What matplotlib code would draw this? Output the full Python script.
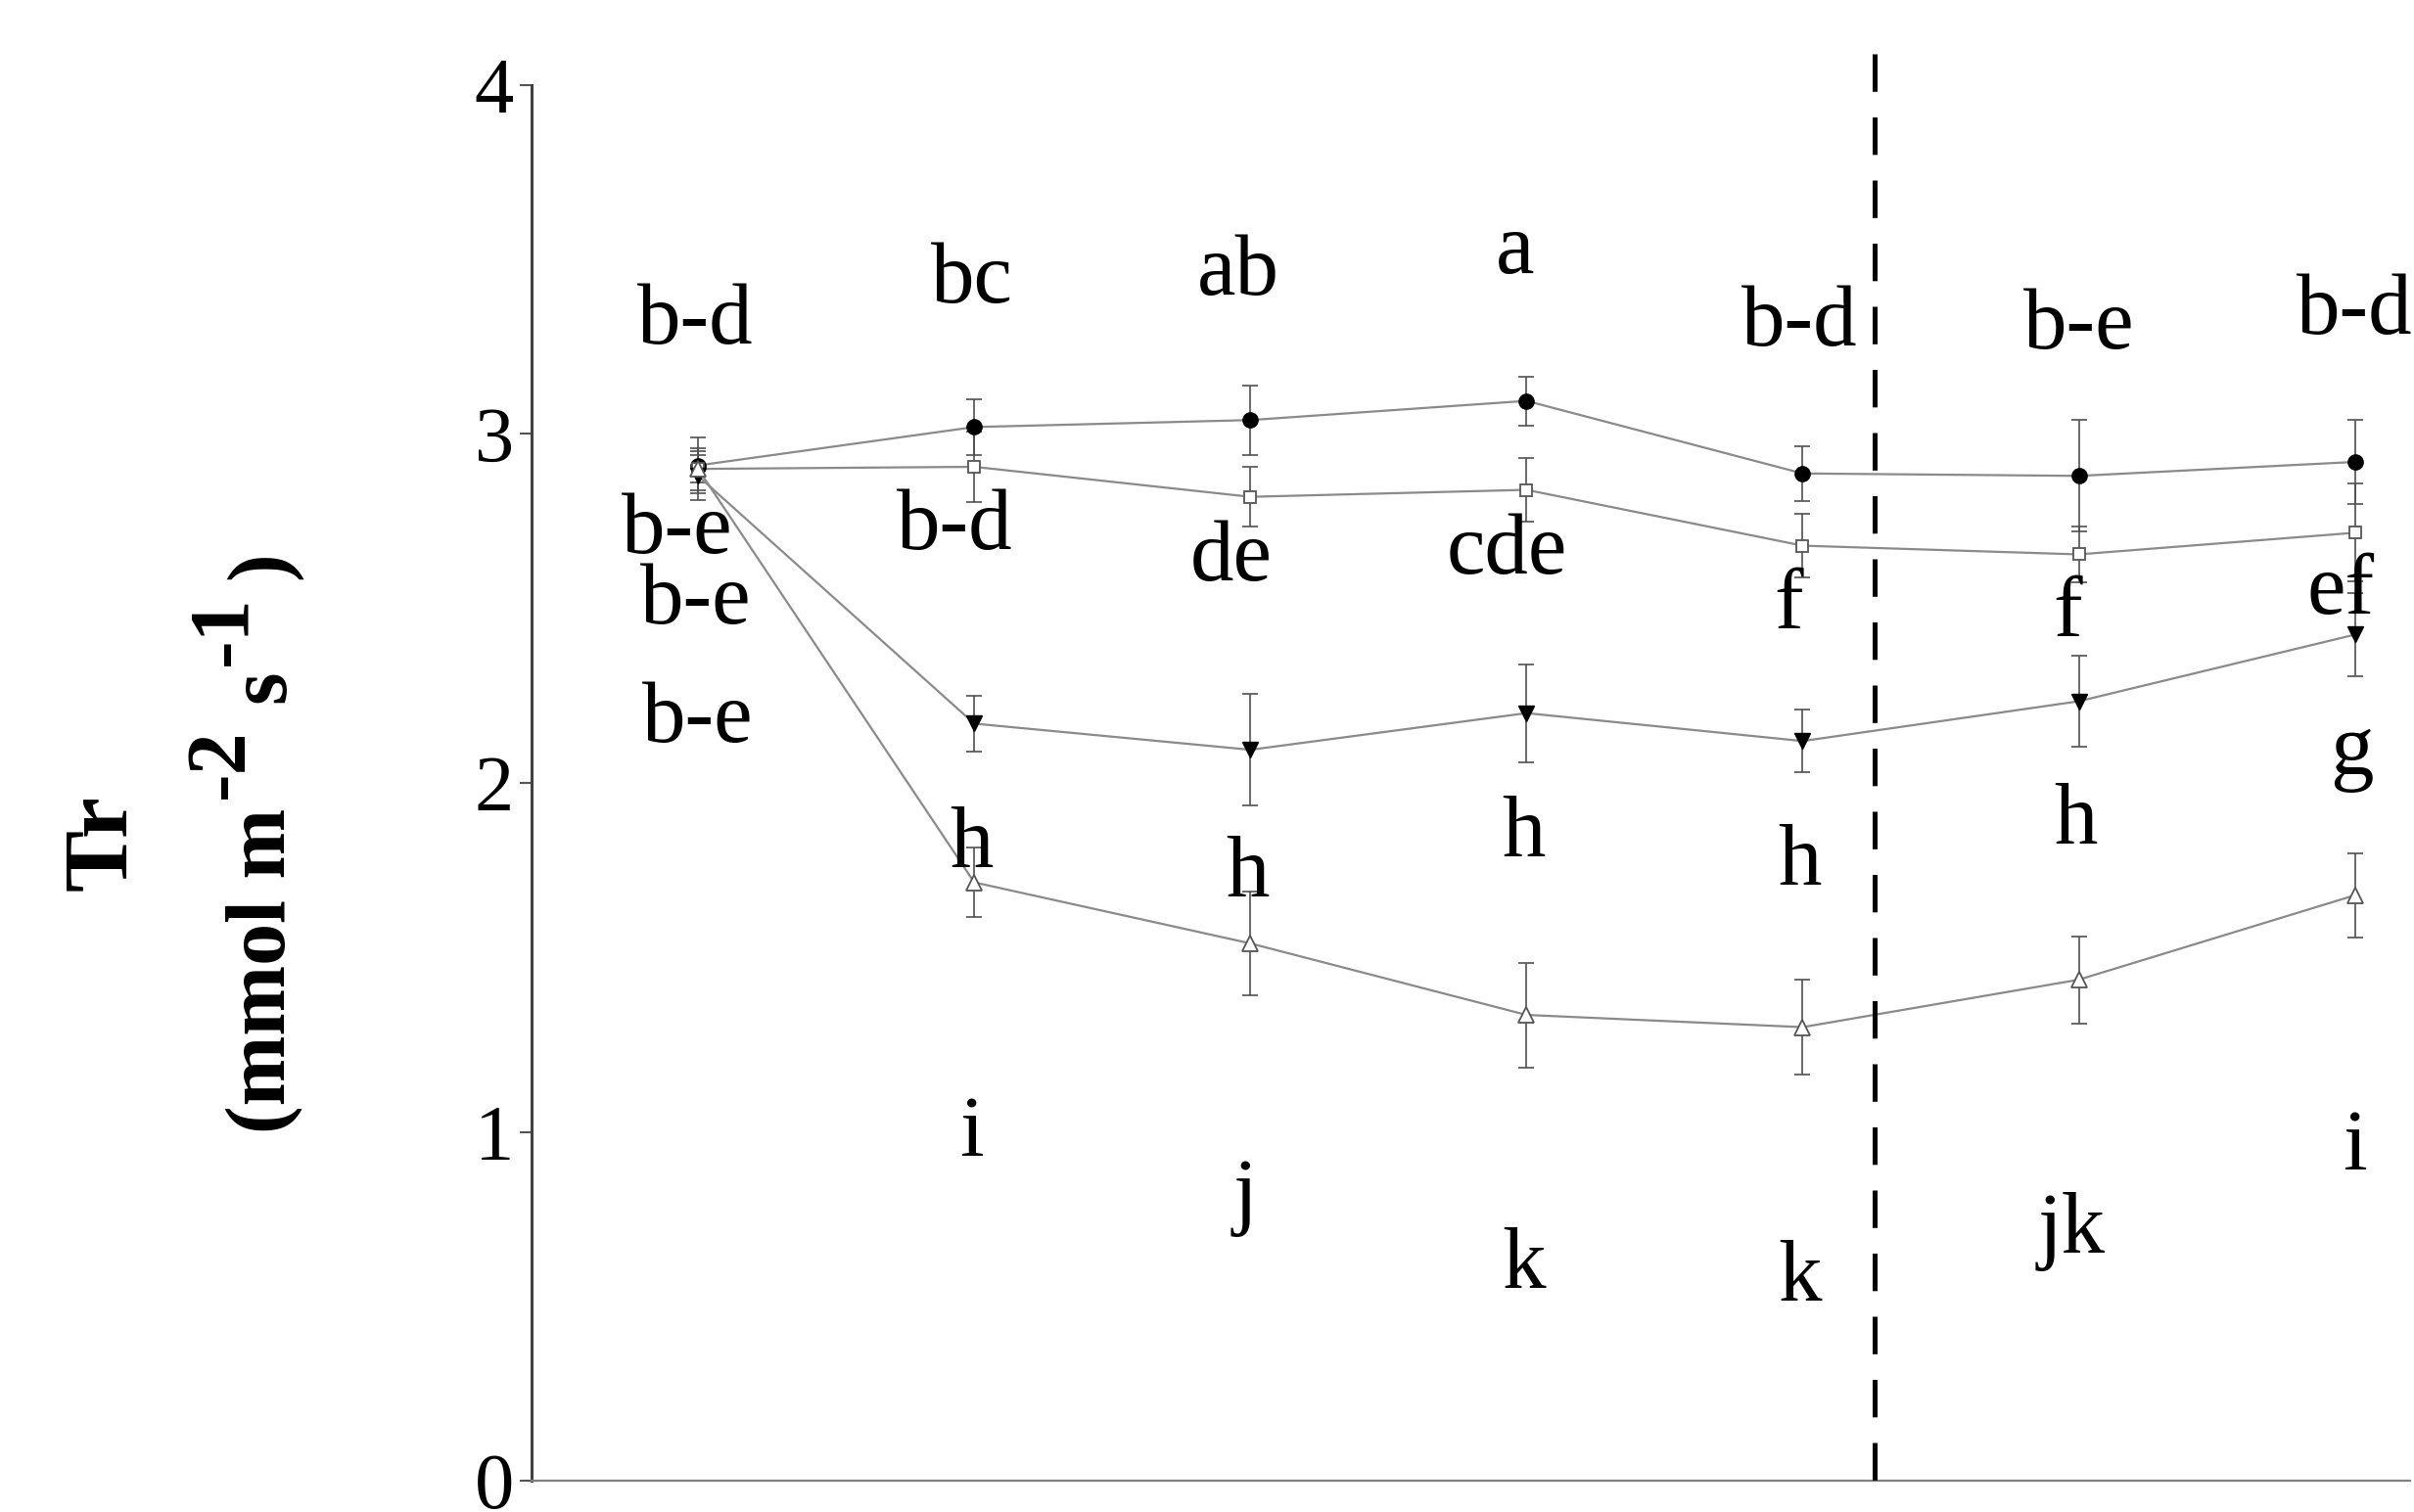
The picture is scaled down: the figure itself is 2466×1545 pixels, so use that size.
import matplotlib.pyplot as plt

plt.rcParams['font.family'] = ['Liberation Serif', 'DejaVu Serif']

# sampling points
x = [1, 2, 3, 4, 5, 6, 7]

# transpiration rate, mean and SE for the four treatments
tr_circle = [2.91, 3.02, 3.04, 3.095, 2.887, 2.88, 2.92]
se_circle = [0.08, 0.08, 0.10, 0.07, 0.078, 0.16, 0.12]
tr_square = [2.90, 2.906, 2.82, 2.84, 2.68, 2.655, 2.717]
se_square = [0.06, 0.10, 0.085, 0.09, 0.09, 0.08, 0.14]
tr_tri_dn = [2.88, 2.17, 2.095, 2.20, 2.12, 2.234, 2.425]
se_tri_dn = [0.07, 0.08, 0.16, 0.14, 0.09, 0.13, 0.12]
tr_tri_up = [2.90, 1.715, 1.54, 1.335, 1.30, 1.436, 1.678]
se_tri_up = [0.04, 0.10, 0.15, 0.15, 0.135, 0.125, 0.12]

# significance letters
let_circle = ["b-d", "bc", "ab", "a", "b-d", "b-e", "b-d"]
let_square = ["b-e", "b-d", "de", "cde", "f", "f", "ef"]
let_tri_dn = ["b-e", "h", "h", "h", "h", "h", "g"]
let_tri_up = ["b-e", "i", "j", "k", "k", "jk", "i"]

# where each row of letters sits (x centre, baseline)
pos_circle = ([0.99, 1.99, 2.955, 3.96, 4.99, 6.0, 7.0],
              [3.26, 3.377, 3.40, 3.46, 3.254, 3.245, 3.287])
pos_square = ([0.925, 1.93, 2.93, 3.93, 4.95, 5.96, 6.95],
              [2.66, 2.67, 2.58, 2.60, 2.443, 2.42, 2.486])
pos_tri_dn = ([0.99, 1.99, 2.99, 3.99, 4.99, 5.99, 6.99],
              [2.457, 1.76, 1.676, 1.79, 1.708, 1.826, 2.025])
pos_tri_up = ([1.0, 1.99, 2.98, 3.99, 4.99, 5.975, 7.0],
              [2.118, 0.93, 0.753, 0.553, 0.516, 0.655, 0.892])

divider_x = 5.26
divider_top = 4.09

W, H = 2466, 1545
fig = plt.figure(figsize=(W / 100, H / 100), dpi=100)
ax = fig.add_axes([0.2202, 0.0207, 0.7782, 0.9230])

line_c = '#8a8a8a'
err_c = '#505050'

series = [
    (tr_circle, se_circle, dict(marker='o', ms=11, mfc='black', mec='black')),
    (tr_square, se_square, dict(marker='s', ms=8, mfc='white', mec='#555555', mew=1.3)),
    (tr_tri_dn, se_tri_dn, dict(marker='v', ms=11, mfc='black', mec='black')),
    (tr_tri_up, se_tri_up, dict(marker='^', ms=12, mfc='white', mec='#555555', mew=1.3)),
]
for y, e, style in series:
    ax.errorbar(x, y, yerr=e, fmt='none', ecolor=err_c, elinewidth=1.2,
                capsize=5.5, capthick=1.2, zorder=2)
    ax.plot(x, y, color=line_c, lw=1.6, zorder=3, **style)

for labels, (lx, ly) in [(let_circle, pos_circle), (let_square, pos_square),
                         (let_tri_dn, pos_tri_dn), (let_tri_up, pos_tri_up)]:
    for s, tx, ty in zip(labels, lx, ly):
        ax.text(tx, ty, s, ha='center', va='baseline', fontsize=64, zorder=4)

# drawn top-down so the dash pattern starts at the top end
ax.plot([divider_x, divider_x], [divider_top, 0], color='black', lw=3.6,
        ls=(0, (7.66, 5.24)), clip_on=False, zorder=5)

ax.set_xlim(0.397, 7.20)
ax.set_ylim(0, 4)
ax.set_xticks([])
ax.set_yticks([0, 1, 2, 3, 4])
ax.tick_params(axis='y', direction='out', length=9, width=1.5,
               color='#555555', labelsize=58, pad=4)
for side in ['top', 'right']:
    ax.spines[side].set_visible(False)
ax.spines['left'].set_color('#404040')
ax.spines['left'].set_linewidth(2.2)
ax.spines['bottom'].set_color('#808080')
ax.spines['bottom'].set_linewidth(1.6)

# y label, written bottom-to-top; exponents are full-size and raised
ylab = [
    ('Tr', 128, 910, 68),
    ('(mmol m', 290, 1158, 62),
    ('-2', 248, 816, 62),
    ('s', 290, 718, 62),
    ('-1', 250, 680, 62),
    (')', 290, 592, 62),
]
for s, bx, by, fs in ylab:
    fig.text(bx / W, 1 - by / H, s, rotation=90, rotation_mode='anchor',
             ha='left', va='baseline', fontsize=fs, fontweight='bold')

fig.savefig('out.png', dpi=100)
